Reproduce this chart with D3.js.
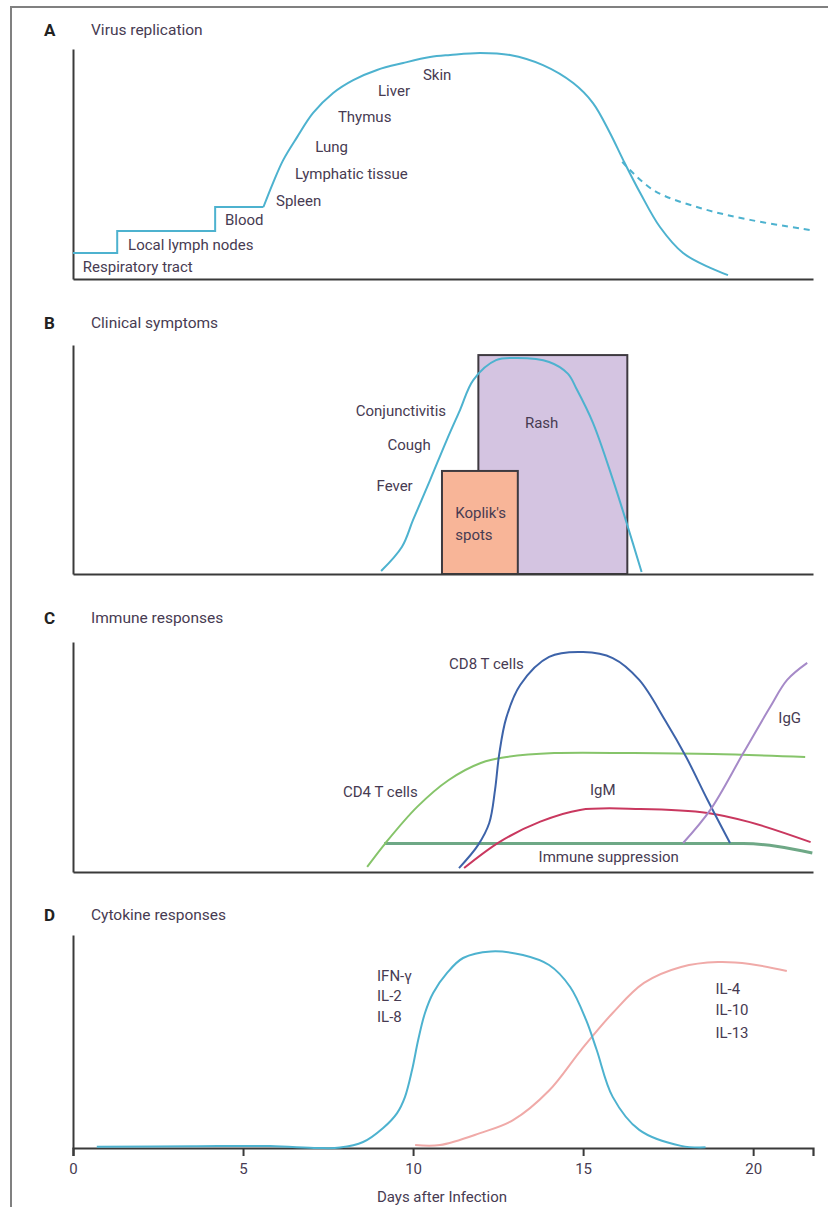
<!DOCTYPE html>
<html>
<head>
<meta charset="utf-8">
<script src="https://cdn.jsdelivr.net/npm/d3@7"></script>
<style>
  body { margin: 0; background: #fff; }
  svg text { font-family: Roboto, "Open Sans", sans-serif; fill: #473b52; }
</style>
</head>
<body>
<svg id="chart" width="828" height="1207"></svg>
<script>
// x axis
const dayTicks = [0, 5, 10, 15, 20];
const dayMax = 21.76;

// A - virus replication (level 0..100)
const stepSites = ["Respiratory tract", "Local lymph nodes", "Blood"];
const stepStart = [0, 1.3, 4.18];
const stepLevel = [11.3, 20.9, 31.3];
const replDay = [5.6, 5.88, 6.18, 6.59, 7.06, 7.65, 8.24, 8.94, 9.71, 10.5, 11.09, 11.97, 12.85, 13.82, 14.71, 15.29, 15.79, 16.18, 16.68, 17.26, 17.94, 18.74, 19.26];
const replLevel = [31.3, 41.7, 51.7, 61.7, 72.2, 80.9, 86.5, 90.9, 93.9, 96.5, 97.4, 98.3, 97.4, 93, 85.2, 76.5, 63.5, 51.7, 37.4, 22.6, 11.3, 4.8, 1.7];
const persistDay = [16.15, 17.06, 18.44, 19.91, 21.68];
const persistLevel = [50.9, 38.7, 30.9, 25.7, 21.3];
const organSites = ["Respiratory tract", "Local lymph nodes", "Blood", "Spleen", "Lymphatic tissue", "Lung", "Thymus", "Liver", "Skin"];
const organDay = [0.29, 1.62, 4.47, 5.97, 6.53, 7.12, 7.79, 8.97, 10.29];
const organLevel = [5.2, 14.8, 25.7, 33.9, 45.7, 57.4, 70.4, 81.7, 88.7];

// B - clinical symptoms
const symptomDay = [9.06, 9.67, 10.0, 10.5, 10.99, 11.38, 11.77, 12.44, 13.06, 14.0, 14.55, 14.8, 15.29, 15.88, 16.28, 16.72];
const symptomLevel = [1.3, 11.8, 23.6, 41, 58.5, 71.6, 84.7, 93.4, 94.3, 92.6, 87.5, 81, 66, 41, 22.3, 0.9];
const symptomNames = ["Conjunctivitis", "Cough", "Fever"];
const symptomNameDay = [10.97, 10.52, 9.99];
const symptomNameLevel = [71.3, 56.3, 38.4];
const rashNames = ["Rash", "Koplik's spots"];
const rashStart = [11.92, 10.85];
const rashEnd = [16.3, 13.08];
const rashLevel = [95.6, 45];

// C - immune responses
const cd4Day = [8.65, 9.19, 10.12, 11.05, 11.99, 12.76, 14.15, 16.49, 18.82, 21.53];
const cd4Level = [2.2, 12.6, 28.3, 40, 47.4, 50, 51.7, 51.7, 51.3, 50];
const cd8Day = [11.35, 11.91, 12.24, 12.41, 12.53, 12.74, 13.15, 14.0, 15.0, 15.87, 16.65, 17.41, 18.03, 18.66, 19.32];
const cd8Level = [1.7, 11.7, 21.3, 35.7, 50.9, 67, 81.3, 93.5, 95.6, 93, 83.5, 66, 50, 31.3, 12.6];
const igmDay = [11.5, 12.56, 13.74, 14.91, 16.68, 18.66, 19.9, 21.69];
const igmLevel = [1.7, 13.2, 21.9, 27, 27.4, 25.7, 21.7, 13];
const iggDay = [17.94, 18.74, 19.71, 20.5, 21.0, 21.59];
const iggLevel = [12.6, 27, 51.7, 71.7, 83.5, 90.9];
const suppressionDay = [9.15, 19.71, 21.74];
const suppressionLevel = [12.4, 12.4, 8.3];
const immuneNames = ["CD8 T cells", "CD4 T cells", "IgM", "IgG", "Immune suppression"];
const immuneNameDay = [11.06, 7.94, 15.2, 20.74, 13.69];
const immuneNameLevel = [90.4, 34.8, 35.7, 67, 6.5];

// D - cytokine responses
const th1Day = [0.7, 3.5, 5.8, 7.2, 7.85, 8.53, 9.12, 9.53, 9.76, 9.97, 10.15, 10.35, 10.59, 11.0, 11.47, 12.29, 13.23, 14.0, 14.62, 15.09, 15.4, 15.87, 16.65, 17.88, 18.6];
const th1Level = [0.6, 0.8, 0.9, 0, 0.2, 2.8, 9.4, 16.4, 23.9, 36.6, 50.7, 63.4, 72.8, 82.2, 89.2, 92.3, 90.6, 85.9, 75.6, 60, 46, 24, 8.5, 1, 0.3];
const th2Day = [10.06, 10.79, 11.97, 12.94, 14.0, 14.94, 15.87, 16.79, 17.88, 18.97, 19.9, 20.99];
const th2Level = [1.4, 1.4, 7, 13.1, 27, 46, 63.4, 77.5, 85, 87.3, 86.4, 83.1];
const th1Names = ["IFN-γ", "IL-2", "IL-8"];
const th1NameLevel = [80.8, 71.4, 61.5];
const th2Names = ["IL-4", "IL-10", "IL-13"];
const th2NameLevel = [74.6, 64.8, 54];
const th1NameDay = 8.94;
const th2NameDay = 18.89;

const svg = d3.select("#chart");
const x = d3.scaleLinear().domain([0, dayMax]).range([73, 813]);

const panels = [
  { letter: "A", title: "Virus replication", top: 49, bottom: 279, labelY: 30 },
  { letter: "B", title: "Clinical symptoms", top: 345, bottom: 574, labelY: 323 },
  { letter: "C", title: "Immune responses", top: 642, bottom: 872, labelY: 618 },
  { letter: "D", title: "Cytokine responses", top: 935, bottom: 1148, labelY: 915 }
];
panels.forEach(p => { p.y = d3.scaleLinear().domain([0, 100]).range([p.bottom, p.top]); });

// outer frame
svg.append("path").attr("d", "M11,1207V7H828")
  .attr("fill", "none").attr("stroke", "#808080").attr("stroke-width", 2);

function zip(days, levels) { return days.map((d, i) => [d, levels[i]]); }

function curve(p, pts, color, width, dash, shape) {
  const line = d3.line().x(d => x(d[0])).y(d => p.y(d[1]))
    .curve(shape || d3.curveCatmullRom.alpha(0.5));
  return svg.append("path").datum(pts).attr("d", line)
    .attr("fill", "none").attr("stroke", color).attr("stroke-width", width || 2)
    .attr("stroke-dasharray", dash || null).attr("stroke-linejoin", "round");
}

function labels(p, names, days, levels, anchor, size) {
  svg.append("g").selectAll("text").data(names).join("text")
    .attr("x", (d, i) => x(Array.isArray(days) ? days[i] : days))
    .attr("y", (d, i) => p.y(levels[i]))
    .attr("dy", "0.35em")
    .attr("text-anchor", anchor || "start")
    .style("font-size", (size || 15) + "px")
    .text(d => d);
}

// B rectangles first so axes sit on top
const pB = panels[1];
svg.append("g").selectAll("rect").data(rashNames).join("rect")
  .attr("x", (d, i) => x(rashStart[i]))
  .attr("y", (d, i) => pB.y(rashLevel[i]))
  .attr("width", (d, i) => x(rashEnd[i]) - x(rashStart[i]))
  .attr("height", (d, i) => pB.y(0) - pB.y(rashLevel[i]))
  .attr("fill", (d, i) => i === 0 ? "#d4c4e1" : "#f8b598")
  .attr("stroke", "#3e3a40").attr("stroke-width", 2);

// axes + titles
panels.forEach((p, k) => {
  const xAxis = d3.axisBottom(x).tickSizeOuter(0);
  if (k === 3) xAxis.tickValues(dayTicks).tickSize(8).tickPadding(7).tickFormat(d3.format("d"));
  else xAxis.tickValues([]);
  const gx = svg.append("g").attr("transform", `translate(0,${p.bottom})`).call(xAxis);
  gx.select(".domain").attr("stroke", "#3a3a3a").attr("stroke-width", 2.2);
  gx.selectAll(".tick line").attr("stroke", "#3a3a3a").attr("stroke-width", 2);
  gx.selectAll(".tick text").style("font-size", "15px").attr("fill", null);

  const gy = svg.append("g").attr("transform", `translate(${x(0)},0)`)
    .call(d3.axisLeft(p.y).tickValues([]).tickSizeOuter(0));
  gy.select(".domain").attr("stroke", "#3a3a3a").attr("stroke-width", 2);

  svg.append("text").attr("x", 44).attr("y", p.labelY).attr("dy", "0.35em")
    .style("font-size", "17px").style("font-weight", "bold").style("fill", "#222")
    .text(p.letter);
  svg.append("text").attr("x", 91).attr("y", p.labelY).attr("dy", "0.35em")
    .style("font-size", "15.5px").text(p.title);
});

svg.append("text").attr("x", x(10.85)).attr("y", 1197).attr("dy", "0.35em")
  .attr("text-anchor", "middle").style("font-size", "15px").text("Days after Infection");

// A
const pA = panels[0];
const blue = "#4db2cf";
const steps = zip(stepStart, stepLevel).concat([[replDay[0], stepLevel[2]]]);
svg.append("path").datum(steps)
  .attr("d", d3.line().x(d => x(d[0])).y(d => pA.y(d[1])).curve(d3.curveStepAfter))
  .attr("fill", "none").attr("stroke", blue).attr("stroke-width", 2);
curve(pA, zip(replDay, replLevel), blue, 2);
curve(pA, zip(persistDay, persistLevel), blue, 2, "6,5");
labels(pA, organSites, organDay, organLevel);

// B
curve(pB, zip(symptomDay, symptomLevel), blue, 2);
labels(pB, symptomNames, symptomNameDay, symptomNameLevel, "end");
labels(pB, ["Rash"], [13.78], [65.9], "middle");
labels(pB, ["Koplik's", "spots"], [11.24, 11.24], [26.8, 17]);

// C
const pC = panels[2];
curve(pC, zip(suppressionDay, suppressionLevel), "#6ea886", 3, null, d3.curveMonotoneX);
curve(pC, zip(cd4Day, cd4Level), "#86c46a", 2);
curve(pC, zip(igmDay, igmLevel), "#c9385f", 2);
curve(pC, zip(cd8Day, cd8Level), "#3d63a9", 2);
curve(pC, zip(iggDay, iggLevel), "#a68ac8", 2);
labels(pC, immuneNames, immuneNameDay, immuneNameLevel);

// D
const pD = panels[3];
curve(pD, zip(th2Day, th2Level), "#f0aaa8", 2);
curve(pD, zip(th1Day, th1Level), blue, 2);
labels(pD, th1Names, th1NameDay, th1NameLevel);
labels(pD, th2Names, th2NameDay, th2NameLevel);
</script>
</body>
</html>
